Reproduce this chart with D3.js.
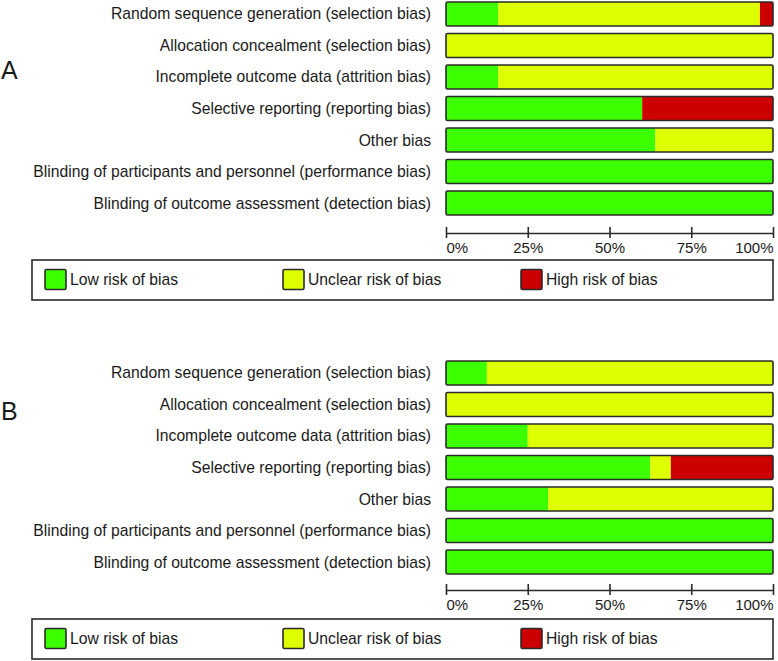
<!DOCTYPE html>
<html>
<head>
<meta charset="utf-8">
<script src="https://cdn.jsdelivr.net/npm/d3@7"></script>
<style>
  html, body { margin: 0; padding: 0; background: #fff; }
  svg { display: block; }
  text { font-family: "Liberation Sans", Arial, sans-serif; fill: #1a1a1a; }
</style>
</head>
<body>
<svg id="chart" width="778" height="661"></svg>
<script>
// ---- data ----
const categories = [
  "Random sequence generation (selection bias)",
  "Allocation concealment (selection bias)",
  "Incomplete outcome data (attrition bias)",
  "Selective reporting (reporting bias)",
  "Other bias",
  "Blinding of participants and personnel (performance bias)",
  "Blinding of outcome assessment (detection bias)"
];
const seriesNames = ["Low risk of bias", "Unclear risk of bias", "High risk of bias"];
const panelALow     = [16, 0, 16, 60, 64, 100, 100];
const panelAUnclear = [80, 100, 84, 0, 36, 0, 0];
const panelAHigh    = [4, 0, 0, 40, 0, 0, 0];
const panelBLow     = [12.5, 0, 25, 62.5, 31.25, 100, 100];
const panelBUnclear = [87.5, 100, 75, 6.25, 68.75, 0, 0];
const panelBHigh    = [0, 0, 0, 31.25, 0, 0, 0];
const tickValues = [0, 25, 50, 75, 100];
const tickLabels = ["0%", "25%", "50%", "75%", "100%"];
const panelLetters = ["A", "B"];

// ---- styling ----
const colors = ["#3cff00", "#ddff00", "#cc0000"];
const svg = d3.select("#chart");
const x = d3.scaleLinear().domain([0, 100]).range([446, 773]);

function buildRows(low, unclear, high) {
  return categories.map((c, i) => ({ cat: c, low: low[i], unclear: unclear[i], high: high[i] }));
}

const panels = [
  { letter: panelLetters[0], rows: buildRows(panelALow, panelAUnclear, panelAHigh), top: 2, bottom: 215, letterY: 70, axisY: 233, legendTop: 260 },
  { letter: panelLetters[1], rows: buildRows(panelBLow, panelBUnclear, panelBHigh), top: 361, bottom: 574, letterY: 411, axisY: 590, legendTop: 619 }
];

const stack = d3.stack().keys(["low", "unclear", "high"]);

panels.forEach(p => {
  const g = svg.append("g");
  const y = d3.scaleBand().domain(categories).range([p.top, p.bottom]).paddingInner(0.24).paddingOuter(0);

  // panel letter
  g.append("text").attr("x", 1).attr("y", p.letterY).attr("dy", "0.35em")
    .style("font-size", "25px").text(p.letter);

  // category labels
  g.selectAll("text.cat").data(categories).enter().append("text")
    .attr("class", "cat")
    .attr("x", 431)
    .attr("y", d => y(d) + y.bandwidth() / 2)
    .attr("dy", "0.35em")
    .attr("text-anchor", "end")
    .style("font-size", "15.7px")
    .text(d => d);

  // stacked segments
  const series = stack(p.rows);
  series.forEach((s, si) => {
    g.selectAll(null).data(s).enter().append("rect")
      .attr("x", d => x(d[0]))
      .attr("width", d => Math.max(0, x(d[1]) - x(d[0])))
      .attr("y", d => y(d.data.cat))
      .attr("height", y.bandwidth())
      .attr("fill", colors[si]);
  });

  // outlines
  g.selectAll(null).data(categories).enter().append("rect")
    .attr("x", x(0)).attr("width", x(100) - x(0))
    .attr("y", d => y(d)).attr("height", y.bandwidth())
    .attr("rx", 1.5)
    .attr("fill", "none").attr("stroke", "#2a2a2a").attr("stroke-width", 1.6);

  // axis
  const axis = d3.axisBottom(x).tickValues(tickValues).tickSize(0).tickFormat((d, i) => tickLabels[i]);
  const ax = g.append("g").attr("transform", `translate(0,${p.axisY})`).call(axis);
  ax.select(".domain").attr("stroke", "#2a2a2a").attr("stroke-width", 1.6);
  ax.selectAll(".tick line").attr("y1", -6).attr("y2", 5).attr("stroke", "#2a2a2a").attr("stroke-width", 1.6);
  ax.selectAll(".tick text")
    .attr("y", 15).attr("dy", "0.35em")
    .style("font-size", "15px").style("font-family", "'Liberation Sans', Arial, sans-serif").attr("fill", "#1a1a1a")
    .attr("text-anchor", (d, i) => i === 0 ? "start" : (i === tickValues.length - 1 ? "end" : "middle"));

  // legend
  const lg = g.append("g").attr("transform", `translate(0,${p.legendTop})`);
  lg.append("rect").attr("x", 32).attr("y", 0).attr("width", 741).attr("height", 40)
    .attr("fill", "#fff").attr("stroke", "#2a2a2a").attr("stroke-width", 1.6);
  const legX = [45, 283, 521];
  seriesNames.forEach((n, i) => {
    lg.append("rect").attr("x", legX[i]).attr("y", 9.5).attr("width", 21).attr("height", 20)
      .attr("rx", 1.5)
      .attr("fill", colors[i]).attr("stroke", "#2a2a2a").attr("stroke-width", 1.6);
    lg.append("text").attr("x", legX[i] + 25).attr("y", 20).attr("dy", "0.35em")
      .style("font-size", "15.7px").text(n);
  });
});
</script>
</body>
</html>
